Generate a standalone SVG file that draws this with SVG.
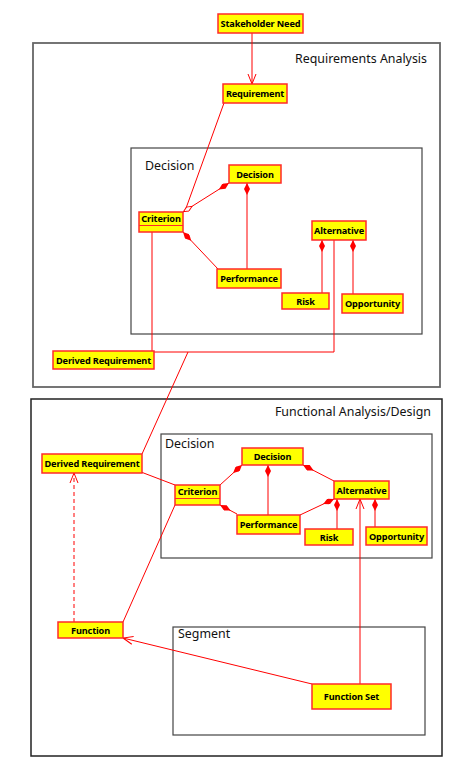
<svg xmlns="http://www.w3.org/2000/svg" width="472" height="774" viewBox="0 0 472 774">
<style>
.frame{fill:none;stroke:#444;stroke-width:1.2}
.outer{fill:none;stroke:#666;stroke-width:1.8}
.outer2{fill:none;stroke:#222;stroke-width:1.5}
.ftitle{font-family:"Noto Sans",sans-serif;font-size:12.4px;fill:#111}
.node rect{fill:#ffff00;stroke:#ff2a2a;stroke-width:1.5}
.node line{stroke:#ff2a2a;stroke-width:1.2}
.node text{font-family:"Noto Sans",sans-serif;font-size:9.2px;font-weight:bold;fill:#000;text-anchor:middle;letter-spacing:-0.15px}
.c{fill:none;stroke:#ff0000;stroke-width:1}
.d{marker-start:url(#dia)}
.a{marker-end:url(#arr)}
.dash{stroke-dasharray:4,3}
</style>
<defs>
<marker id="dia" viewBox="0 0 12 6" refX="0" refY="3" markerWidth="12" markerHeight="6" orient="auto" markerUnits="userSpaceOnUse"><path d="M0,3 L6,0 L12,3 L6,6 Z" fill="#ff0000"/></marker>
<marker id="hdia" viewBox="0 0 12 6" refX="12" refY="3" markerWidth="11" markerHeight="5.5" orient="auto" markerUnits="userSpaceOnUse"><path d="M0.5,3 L6,0.5 L11.5,3 L6,5.5 Z" fill="#fff" stroke="#ff0000" stroke-width="1"/></marker>
<marker id="arr" viewBox="0 0 10 10" refX="10" refY="5" markerWidth="10" markerHeight="10" orient="auto" markerUnits="userSpaceOnUse"><path d="M0,1 L10,5 L0,9" fill="none" stroke="#ff0000" stroke-width="1"/></marker>
</defs>
<g id="frames">
<rect class="outer" x="33" y="43" width="407" height="344"/>
<text class="ftitle" x="427" y="63" text-anchor="end">Requirements Analysis</text>
<rect class="frame" x="131" y="148" width="291" height="186"/>
<text class="ftitle" x="145" y="170">Decision</text>
<rect class="outer2" x="31" y="399" width="411" height="357"/>
<text class="ftitle" x="431" y="416" text-anchor="end">Functional Analysis/Design</text>
<rect class="frame" x="161" y="434" width="271" height="124"/>
<text class="ftitle" x="165" y="448">Decision</text>
<rect class="frame" x="173" y="627" width="252" height="108"/>
<text class="ftitle" x="178" y="638">Segment</text>
</g>
<g id="connectors">
<path class="c a" d="M252,33 L252,84"/>
<path class="c" d="M224,103 L185,211"/>
<path class="c d" d="M229,183 L183,212" marker-end="url(#hdia)"/>
<path class="c d" d="M247,183 L247,269"/>
<path class="c d" d="M183,232 L218,269"/>
<path class="c d" d="M322,240 L322,293"/>
<path class="c d" d="M353,240 L353,294"/>
<path class="c" d="M152,232 L152,351"/>
<path class="c" d="M334,240 L334,352 L154,352"/>
<path class="c" d="M188,352 L142,454"/>
<path class="c" d="M141,472 L175,485"/>
<path class="c d" d="M242,465 L220,485"/>
<path class="c d" d="M268,465 L268,515"/>
<path class="c d" d="M220,505 L237,514"/>
<path class="c d" d="M303,465 L334,481"/>
<path class="c d" d="M334,499 L300,515"/>
<path class="c d" d="M337,499 L337,529"/>
<path class="c d" d="M375,499 L375,527"/>
<path class="c a" d="M360,684 L360,499"/>
<path class="c a dash" d="M74,622 L74,473"/>
<path class="c" d="M175,505 L123,622"/>
<path class="c a" d="M312,684 L123,638"/>
</g>
<g id="stakeholder-need" class="node"><rect x="218" y="14" width="85" height="19"/><text x="260.5" y="27">Stakeholder Need</text></g>
<g id="requirement" class="node"><rect x="223" y="84" width="64" height="19"/><text x="255" y="97">Requirement</text></g>
<g id="decision-1" class="node"><rect x="229" y="165" width="52" height="18"/><text x="255" y="177.5">Decision</text></g>
<g id="criterion-1" class="node"><rect x="139" y="212" width="44" height="20"/><line x1="139" y1="225.5" x2="183" y2="225.5"/><text x="161" y="222">Criterion</text></g>
<g id="alternative-1" class="node"><rect x="312" y="221" width="54" height="19"/><text x="339" y="234">Alternative</text></g>
<g id="performance-1" class="node"><rect x="217" y="269" width="64" height="19"/><text x="249" y="282">Performance</text></g>
<g id="risk-1" class="node"><rect x="282" y="293" width="47" height="16"/><text x="305.5" y="304.5">Risk</text></g>
<g id="opportunity-1" class="node"><rect x="342" y="294" width="61" height="19"/><text x="372.5" y="307">Opportunity</text></g>
<g id="derived-requirement-1" class="node"><rect x="53" y="351" width="101" height="18"/><text x="103.5" y="363.5">Derived Requirement</text></g>
<g id="derived-requirement-2" class="node"><rect x="42" y="454" width="100" height="19"/><text x="92" y="467">Derived Requirement</text></g>
<g id="decision-2" class="node"><rect x="242" y="448" width="61" height="17"/><text x="272.5" y="460">Decision</text></g>
<g id="criterion-2" class="node"><rect x="175" y="485" width="45" height="20"/><line x1="175" y1="498.5" x2="220" y2="498.5"/><text x="197.5" y="495">Criterion</text></g>
<g id="alternative-2" class="node"><rect x="334" y="481" width="55" height="18"/><text x="361.5" y="493.5">Alternative</text></g>
<g id="performance-2" class="node"><rect x="237" y="515" width="63" height="19"/><text x="268.5" y="528">Performance</text></g>
<g id="risk-2" class="node"><rect x="305" y="529" width="48" height="16"/><text x="329" y="540.5">Risk</text></g>
<g id="opportunity-2" class="node"><rect x="366" y="527" width="61" height="18"/><text x="396.5" y="539.5">Opportunity</text></g>
<g id="function" class="node"><rect x="58" y="622" width="65" height="16"/><text x="90.5" y="633.5">Function</text></g>
<g id="function-set" class="node"><rect x="312" y="684" width="79" height="25"/><text x="351.5" y="700">Function Set</text></g>
</svg>
